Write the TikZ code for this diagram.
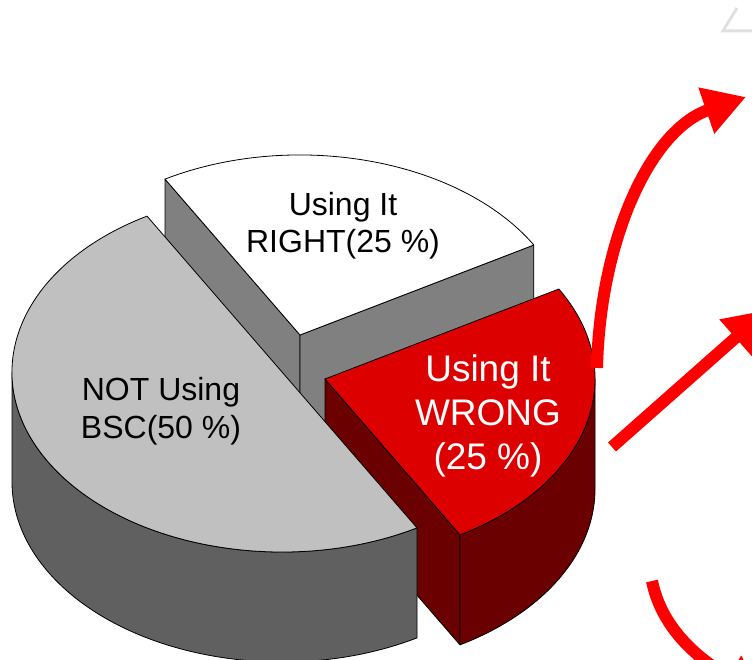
\documentclass[tikz,border=0pt]{standalone}
\usepackage{fontspec}
\setmainfont{Liberation Sans}
\usetikzlibrary{arrows.meta}
\definecolor{piegray}{HTML}{C0C0C0}
\definecolor{piegrayside}{HTML}{606060}
\definecolor{piewhiteside}{HTML}{808080}
\definecolor{piered}{HTML}{DD0000}
\definecolor{pieredside}{HTML}{6B0000}
\definecolor{arrowred}{HTML}{FF0000}
\definecolor{framegray}{HTML}{E0E0E0}
\begin{document}
\begin{tikzpicture}[x=1pt,y=1pt]
      \tikzstyle{face}=[draw=black,line width=0.8pt,line join=round]
      \tikzstyle{rim}=[x radius=270,y radius=180]
      \tikzstyle{lbl}=[align=center,inner sep=0pt]
      \tikzstyle{bigarrow}=[arrowred,line width=12pt,-{Triangle[length=42pt,width=46pt]}]
      \useasboundingbox (0,0) rectangle (752,660);
      \clip (0,0) rectangle (752,660);

      \coordinate (W) at (300,325);
      \coordinate (G) at (282,288);
      \coordinate (R) at (325,281);

      \filldraw[face,fill=piewhiteside] (W) -- ++(120:270 and 180) -- ++(0,-110) -- ++(-60:270 and 180) -- cycle;
      \filldraw[face,fill=piewhiteside] (W) -- ++(30:270 and 180) -- ++(0,-110) -- ++(210:270 and 180) -- cycle;
      \filldraw[face,fill=white] (W) -- ++(30:270 and 180) arc[rim,start angle=30,end angle=120] -- cycle;

      \filldraw[face,fill=pieredside] (R) -- ++(-60:270 and 180) -- ++(0,-110) -- ++(120:270 and 180) -- cycle;
      \filldraw[face,fill=pieredside] (R) ++(-60:270 and 180) arc[rim,start angle=-60,end angle=0] -- ++(0,-110) arc[rim,start angle=0,end angle=-60] -- cycle;
      \filldraw[face,fill=piered] (R) -- ++(-60:270 and 180) arc[rim,start angle=-60,end angle=30] -- cycle;

      \filldraw[face,fill=piegrayside] (G) ++(180:270 and 180) arc[rim,start angle=180,end angle=300] -- ++(0,-110) arc[rim,start angle=300,end angle=180] -- cycle;
      \filldraw[face,fill=piegray] (G) -- ++(120:270 and 180) arc[rim,start angle=120,end angle=300] -- cycle;

      \node[lbl,font=\fontsize{32}{37}\selectfont] (right) at (343,434) {Using It\\RIGHT(25 \%)};
      \node[lbl,font=\fontsize{32}{38}\selectfont] (notusing) at (161,249) {NOT Using\\BSC(50 \%)};
      \node[lbl,white,font=\fontsize{37}{44}\selectfont] (wrong) at (488,244) {Using It\\WRONG\\(25 \%)};

      \coordinate (up start) at (597,292);
      \coordinate (up tip) at (746,563);
      \coordinate (mid start) at (612,213);
      \coordinate (mid tip) at (767,350);
      \coordinate (low start) at (652,79);
      \coordinate (low tip) at (765,-38);
      \draw[bigarrow] (up start) .. controls (600,420) and (650,530) .. (up tip);
      \draw[bigarrow] (mid start) -- (mid tip);
      \draw[bigarrow] (low start) .. controls (662,30) and (700,0) .. (low tip);

      \draw[framegray,line width=3pt] (737,652) -- (723,629) -- (760,629);
    \end{tikzpicture}
\end{document}
